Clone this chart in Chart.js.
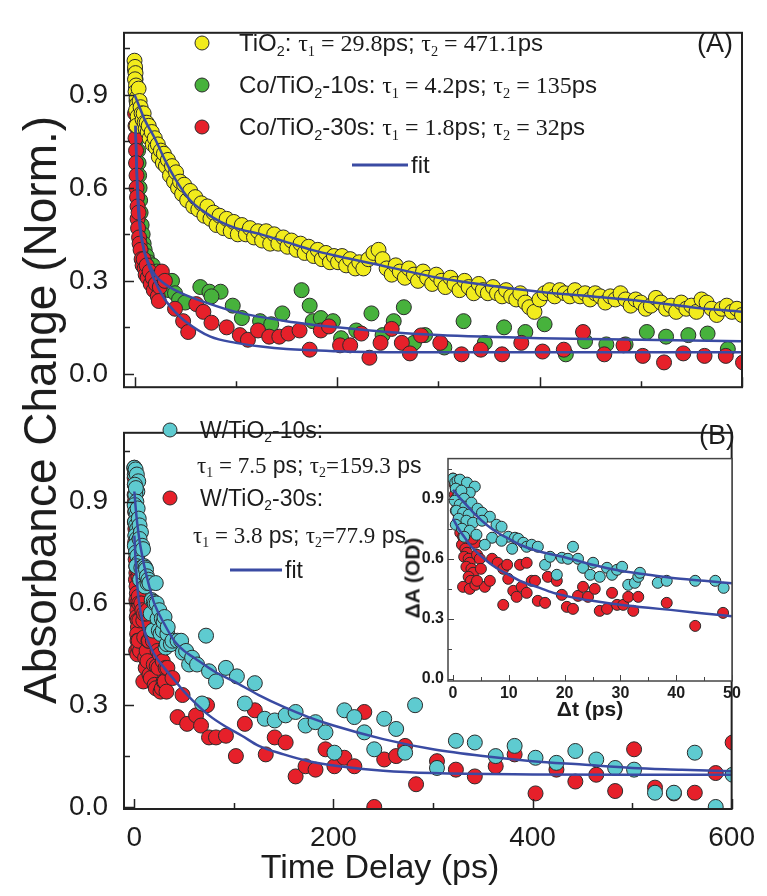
<!DOCTYPE html>
<html>
<head>
<meta charset="utf-8">
<title>Transient absorption decay</title>
<script src="https://cdn.jsdelivr.net/npm/chart.js@4.4.0/dist/chart.umd.min.js"></script>
<style>
  body { margin: 0; background: #fff; width: 767px; height: 896px; position: relative; overflow: hidden;
         font-family: "Liberation Sans", Arial, sans-serif; color: #1c1c1c; }
  canvas { position: absolute; display: block; }
  .lbl { position: absolute; white-space: nowrap; line-height: 1; transform: translateY(-50%); }
  .serif { font-family: "Liberation Serif", "Times New Roman", serif; }
  sub { font-size: 0.6em; vertical-align: -0.35em; line-height: 0; }
  .dot { position: absolute; width: 15px; height: 15px; border-radius: 50%; border: 1px solid #2b2b2b;
         box-sizing: border-box; transform: translate(-50%, -50%); }
  .fitkey { position: absolute; height: 3px; background: #3a4ba3; transform: translateY(-50%); }
</style>
</head>
<body>
<canvas id="panelA" width="767" height="420" style="left:0;top:0"></canvas>
<canvas id="panelB" width="767" height="496" style="left:0;top:400px"></canvas>
<canvas id="inset" width="350" height="275" style="left:395px;top:445px"></canvas>

<!-- axis titles -->
<div class="lbl" style="left:40px;top:410px;font-size:46px;transform:translate(-50%,-50%) rotate(-90deg)">Absorbance Change (Norm.)</div>
<div class="lbl" style="left:380px;top:866px;font-size:34px;transform:translate(-50%,-50%)">Time Delay (ps)</div>
<div class="lbl" style="left:412px;top:578px;font-size:21px;font-weight:bold;transform:translate(-50%,-50%) rotate(-90deg)">ΔA (OD)</div>
<div class="lbl" style="left:590px;top:708px;font-size:21px;font-weight:bold;transform:translate(-50%,-50%)">Δt (ps)</div>

<!-- panel A legend -->
<div class="dot" style="left:202px;top:43px;background:#f2ec1c"></div>
<div class="dot" style="left:202px;top:85px;background:#47b23c"></div>
<div class="dot" style="left:202px;top:127px;background:#e6202a"></div>
<div class="lbl" style="left:239px;top:43px;font-size:24px">TiO<sub>2</sub>: <span class="serif">τ<sub>1</sub> = 29.8</span>ps; <span class="serif">τ<sub>2</sub> = 471.1</span>ps</div>
<div class="lbl" style="left:239px;top:85px;font-size:24px">Co/TiO<sub>2</sub>-10s: <span class="serif">τ<sub>1</sub> = 4.2</span>ps; <span class="serif">τ<sub>2</sub> = 135</span>ps</div>
<div class="lbl" style="left:239px;top:127px;font-size:24px">Co/TiO<sub>2</sub>-30s: <span class="serif">τ<sub>1</sub> = 1.8</span>ps; <span class="serif">τ<sub>2</sub> = 32</span>ps</div>
<div class="fitkey" style="left:352px;top:165px;width:56px"></div>
<div class="lbl" style="left:411px;top:165px;font-size:24px">fit</div>
<div class="lbl" style="left:733px;top:43px;font-size:27px;transform:translate(-100%,-50%)">(A)</div>

<!-- panel B legend -->
<div class="dot" style="left:170px;top:430px;background:#5ecbd0"></div>
<div class="dot" style="left:170px;top:498px;background:#e6202a"></div>
<div class="lbl" style="left:200px;top:430px;font-size:23px">W/TiO<sub>2</sub>-10s:</div>
<div class="lbl" style="left:197px;top:465px;font-size:23px"><span class="serif">τ<sub>1</sub> = 7.5</span> ps; <span class="serif">τ<sub>2</sub>=159.3</span> ps</div>
<div class="lbl" style="left:200px;top:498px;font-size:23px">W/TiO<sub>2</sub>-30s:</div>
<div class="lbl" style="left:193px;top:535px;font-size:23px"><span class="serif">τ<sub>1</sub> = 3.8</span> ps; <span class="serif">τ<sub>2</sub>=77.9</span> ps</div>
<div class="fitkey" style="left:230px;top:570px;width:52px"></div>
<div class="lbl" style="left:285px;top:570px;font-size:23px">fit</div>
<div class="lbl" style="left:735px;top:435px;font-size:27px;transform:translate(-100%,-50%)">(B)</div>

<script>
// ---- panel A: TiO2 and Co/TiO2, [delay ps, normalised change] ----
const tio2 = [
  [0,1.01],[0.5,0.99],[1,0.97],[0.5,0.95],[1.5,0.93],[1,0.91],[2,0.89],[2.5,0.87],[1.5,0.85],[3,0.83],[2,0.80],
  [4,0.92],[5,0.88],[6,0.86],[7,0.84],[8,0.82],[9,0.84],[10,0.81],[11,0.79],[12,0.81],[13,0.78],[14,0.80],
  [15,0.76],[17,0.78],[18,0.74],[20,0.76],[21,0.73],[23,0.74],[24,0.70],[26,0.72],[28,0.68],[29,0.71],
  [31,0.67],[33,0.69],[35,0.64],[37,0.67],[39,0.62],[41,0.65],[43,0.60],[45,0.62],[47,0.58],[49,0.61],
  [52,0.56],[55,0.59],[58,0.54],[60,0.57],[63,0.53],[66,0.55],[69,0.51],[72,0.54],[75,0.50],[78,0.52],
  [81,0.48],[84,0.51],[88,0.47],[91,0.50],[95,0.46],[98,0.49],[102,0.45],[106,0.48],[110,0.45],[114,0.47],
  [118,0.44],[122,0.46],[126,0.43],[130,0.46],[134,0.42],[138,0.45],[142,0.42],[147,0.44],[151,0.41],
  [155,0.43],[160,0.40],[164,0.42],[168,0.39],[172,0.41],[177,0.38],[181,0.40],[185,0.37],[189,0.39],
  [193,0.36],[197,0.38],[201,0.36],[205,0.38],[209,0.35],[213,0.37],[218,0.34],[222,0.36],[226,0.34],
  [231,0.37],[236,0.39],[241,0.40],[245,0.37],[249,0.34],[254,0.32],[258,0.35],[262,0.33],[267,0.31],
  [271,0.34],[276,0.32],[280,0.30],[285,0.33],[289,0.31],[294,0.29],[298,0.32],[303,0.30],[307,0.28],
  [312,0.31],[316,0.29],[321,0.27],[326,0.30],[330,0.28],[335,0.26],[340,0.29],[344,0.27],[349,0.26],
  [354,0.28],[358,0.26],[363,0.25],[367,0.27],[372,0.25],[377,0.24],[381,0.26],[386,0.23],[390,0.215],
  [395,0.20],[400,0.24],[405,0.26],[410,0.27],[415,0.25],[420,0.27],[425,0.26],[430,0.25],[435,0.27],
  [440,0.25],[445,0.26],[450,0.24],[455,0.26],[460,0.25],[465,0.23],[470,0.25],[475,0.24],[480,0.26],
  [485,0.24],[490,0.22],[495,0.24],[500,0.23],[505,0.21],[510,0.22],[515,0.245],[520,0.23],[525,0.21],
  [530,0.22],[535,0.20],[540,0.23],[545,0.21],[550,0.22],[555,0.20],[560,0.24],[565,0.23],[570,0.21],
  [575,0.19],[580,0.21],[585,0.22],[590,0.20],[595,0.21],[600,0.19]
];
const coTi10 = [
  [0.5,0.98],[1,0.95],[1.5,0.92],[2,0.88],[2.5,0.84],[3,0.80],[3,0.76],[3.5,0.72],[4,0.68],[4.5,0.64],
  [5,0.60],[5.5,0.56],[6,0.52],[7,0.48],[8,0.45],[9,0.42],[10,0.40],[12,0.38],[14,0.36],[16,0.34],
  [18,0.35],[20,0.32],[22,0.33],[25,0.30],[28,0.31],[31,0.29],[34,0.27],[37,0.30],[40,0.26],[44,0.24],
  [50,0.23],[65,0.28],[74,0.265],[85,0.265],[76,0.25],[97,0.22],[106,0.18],[124,0.17],[135,0.16],
  [146,0.195],[165,0.27],[173,0.22],[176,0.17],[184,0.18],[196,0.17],[204,0.115],[219,0.14],[234,0.195],
  [245,0.125],[256,0.17],[266,0.215],[276,0.10],[287,0.125],[306,0.085],[325,0.17],[346,0.10],[365,0.15],
  [386,0.135],[405,0.16],[426,0.063],[445,0.105],[466,0.095],[485,0.095],[506,0.135],[525,0.12],
  [547,0.125],[566,0.13],[586,0.08]
];
const coTi30 = [
  [0.5,0.84],[1,0.80],[1,0.76],[1.5,0.72],[1.5,0.68],[2,0.64],[2,0.60],[2.5,0.57],[3,0.54],[3,0.50],
  [3.5,0.47],[4,0.52],[4.5,0.44],[5,0.42],[6,0.40],[7,0.37],[8,0.35],[9,0.37],[10,0.34],[11,0.32],
  [12,0.35],[13,0.31],[15,0.33],[16,0.29],[18,0.31],[19,0.27],[21,0.29],[23,0.25],[25,0.28],[27,0.33],
  [30,0.30],[24,0.235],[40,0.21],[48,0.17],[53,0.135],[61,0.225],[68,0.20],[76,0.165],[91,0.15],
  [104,0.125],[112,0.11],[122,0.14],[133,0.12],[143,0.12],[152,0.13],[163,0.14],[173,0.078],[184,0.14],
  [192,0.153],[203,0.092],[213,0.092],[224,0.13],[232,0.052],[243,0.10],[254,0.145],[264,0.10],
  [272,0.066],[283,0.124],[302,0.10],[323,0.063],[342,0.078],[363,0.063],[382,0.10],[403,0.072],
  [424,0.078],[443,0.135],[464,0.063],[483,0.092],[502,0.058],[523,0.037],[542,0.066],[563,0.058],
  [584,0.058],[601,0.037]
];
// biexponential fit curves, sampled along the drawn line
const tio2Fit = [
  [0,0.90],[5,0.86],[10,0.82],[20,0.76],[30,0.69],[40,0.63],[55,0.56],[70,0.52],[85,0.49],[100,0.47],
  [125,0.45],[150,0.425],[175,0.40],[200,0.38],[250,0.345],[300,0.31],[350,0.285],[400,0.265],
  [450,0.25],[500,0.235],[550,0.215],[600,0.20]
];
const coTi10Fit = [
  [1,0.80],[2,0.68],[4,0.55],[6,0.47],[8,0.42],[10,0.39],[15,0.35],[20,0.32],[30,0.29],[40,0.27],
  [50,0.255],[75,0.225],[100,0.20],[150,0.17],[200,0.15],[250,0.135],[300,0.125],[400,0.115],
  [500,0.11],[600,0.105]
];
const coTi30Fit = [
  [1,0.80],[2,0.66],[3,0.57],[4,0.51],[6,0.45],[8,0.42],[10,0.39],[15,0.34],[20,0.30],[30,0.24],
  [40,0.20],[50,0.17],[75,0.12],[100,0.10],[125,0.088],[150,0.08],[200,0.073],[250,0.07],[300,0.07],
  [400,0.07],[500,0.07],[600,0.07]
];

// ---- panel B: W/TiO2, first 50 ps (also shown in the inset) and later delays ----
const w10Early = [
  [0,1.0],[0.4,0.98],[0.8,0.99],[1.25,0.995],[2.5,0.98],[3.9,0.96],[3,0.93],[0.5,0.95],[1,0.92],[1.5,0.94],
  [2,0.90],[0.3,0.89],[1.2,0.87],[2.2,0.86],[3.3,0.88],[0.6,0.84],[1.8,0.83],[2.8,0.82],[4.4,0.85],
  [1,0.80],[2.4,0.79],[3.6,0.78],[0.5,0.77],[1.6,0.75],[3,0.74],[4.2,0.72],[2,0.71],[5.2,0.83],
  [6.6,0.81],[5.2,0.79],[7.8,0.77],[8.7,0.76],[7,0.705],[5.7,0.67],[9.9,0.71],[11.1,0.705],[8.7,0.69],
  [11.7,0.70],[10.6,0.65],[12.6,0.68],[13.2,0.66],[14.1,0.67],[15.2,0.66],[16.5,0.57],[17.4,0.61],
  [18.6,0.52],[19.5,0.605],[20.6,0.60],[21.5,0.66],[22.4,0.60],[23.3,0.555],[24.6,0.52],[25.1,0.58],
  [26.3,0.51],[27.6,0.555],[28.5,0.52],[29.4,0.545],[30.3,0.56],[31.4,0.47],[32.6,0.48],[33.2,0.51],
  [33.5,0.53],[36.7,0.48],[38.3,0.49],[43.4,0.49],[47,0.49],[48.5,0.455]
];
const w10Late = [
  [52,0.46],[55,0.42],[58,0.44],[63,0.42],[68,0.305],[72,0.505],[75,0.40],[82,0.37],[92,0.41],[103,0.385],
  [111,0.305],[121,0.365],[131,0.26],[141,0.255],[152,0.27],[162,0.28],[172,0.24],[182,0.25],[192,0.22],
  [201,0.16],[211,0.285],[221,0.265],[231,0.22],[241,0.17],[251,0.26],[263,0.23],[272,0.16],[282,0.30],
  [304,0.115],[323,0.195],[342,0.19],[363,0.15],[382,0.18],[403,0.145],[424,0.13],[443,0.165],
  [464,0.14],[483,0.115],[502,0.11],[523,0.042],[542,0.042],[563,0.16],[584,0.0],[601,0.095]
];
const w30Early = [
  [0,1.0],[0.3,0.97],[0.5,0.95],[0.3,0.92],[0.6,0.90],[0.8,0.87],[0.5,0.84],[1,0.82],[1.2,0.80],
  [0.8,0.78],[1.5,0.76],[1.3,0.73],[1.8,0.71],[2,0.69],[1.6,0.67],[2.2,0.65],[2.5,0.63],[2,0.61],
  [2.8,0.60],[3,0.58],[2.4,0.56],[3.3,0.55],[3.6,0.53],[2.8,0.51],[3.2,0.49],[1.8,0.46],[3,0.45],
  [4,0.47],[4.3,0.62],[4.8,0.60],[5.7,0.46],[6.6,0.49],[5,0.55],[4,0.68],[3.5,0.70],[4.3,0.49],
  [7,0.60],[8,0.58],[9,0.55],[9.7,0.57],[9.9,0.50],[9,0.37],[10.8,0.44],[11.4,0.41],[12,0.57],
  [13.2,0.58],[12.3,0.46],[13.2,0.43],[14.1,0.49],[14.7,0.49],[15.2,0.39],[16.5,0.38],[17,0.51],
  [18.6,0.49],[19.5,0.42],[20.4,0.36],[21.5,0.35],[22.4,0.415],[23.3,0.46],[24.2,0.41],[25.4,0.45],
  [26.3,0.34],[27.6,0.35],[28.5,0.43],[29.4,0.37],[30.5,0.37],[31.4,0.41],[32.3,0.34],[33.2,0.41],
  [38.3,0.38],[43.4,0.265],[48.4,0.33]
];
const w30Late = [
  [53,0.245],[62,0.27],[67,0.24],[73,0.30],[75,0.205],[82,0.205],[92,0.21],[102,0.15],[111,0.245],
  [121,0.285],[132,0.155],[141,0.205],[152,0.19],[162,0.09],[172,0.12],[182,0.11],[192,0.17],[201,0.12],
  [211,0.145],[221,0.12],[231,0.28],[241,0.0],[251,0.14],[263,0.15],[272,0.18],[283,0.067],[304,0.135],
  [323,0.11],[342,0.09],[363,0.12],[382,0.155],[403,0.04],[424,0.11],[443,0.075],[464,0.095],
  [483,0.047],[502,0.17],[523,0.057],[542,0.04],[563,0.042],[584,0.10],[601,0.19]
];
const w10Fit = [
  [0,0.93],[2,0.86],[4,0.81],[6,0.77],[8,0.74],[10,0.71],[15,0.65],[20,0.60],[30,0.54],[40,0.49],
  [50,0.46],[60,0.44],[80,0.40],[100,0.37],[125,0.33],[150,0.295],[175,0.265],[200,0.24],[250,0.20],
  [300,0.17],[350,0.15],[400,0.135],[450,0.125],[500,0.115],[550,0.11],[600,0.105]
];
const w30Fit = [
  [0,0.80],[1,0.74],[2,0.69],[3,0.65],[4,0.62],[6,0.58],[8,0.55],[10,0.52],[15,0.48],[20,0.45],
  [30,0.41],[40,0.375],[50,0.34],[60,0.31],[75,0.27],[90,0.24],[108,0.21],[125,0.18],[150,0.155],
  [175,0.135],[206,0.12],[250,0.107],[300,0.10],[400,0.096],[500,0.095],[600,0.095]
];
// inset fits over the first 50 ps
const w10FitInset = [
  [0,0.945],[1,0.91],[2,0.88],[3,0.85],[4,0.82],[6,0.77],[8,0.73],[10,0.70],[12,0.67],[15,0.64],
  [18,0.62],[21,0.60],[25,0.57],[30,0.54],[35,0.52],[39,0.505],[45,0.49],[50,0.478]
];
const w30FitInset = [
  [0,0.80],[1,0.75],[2,0.71],[3,0.67],[4,0.64],[6,0.59],[8,0.55],[10,0.52],[12,0.49],[15,0.46],
  [18,0.43],[21,0.41],[25,0.39],[30,0.37],[35,0.355],[39,0.345],[45,0.327],[50,0.313]
];

// ticks
const delayTicks = [0, 100, 200, 300, 400, 500, 600];
const delayLabels = [0, 200, 400, 600];
const normTicks = [0, 0.15, 0.3, 0.45, 0.6, 0.75, 0.9, 1.05];
const normLabels = [0, 0.3, 0.6, 0.9];
const insetTimeTicks = [0, 5, 10, 15, 20, 25, 30, 35, 40, 45, 50];
const insetTimeLabels = [0, 10, 20, 30, 40, 50];

const YELLOW = '#f2ec1c', GREEN = '#47b23c', RED = '#e6202a', CYAN = '#5ecbd0', FIT = '#3a4ba3', INK = '#1c1c1c';

const has = (list, v) => list.some(a => Math.abs(a - v) < 1e-9);
const toXY = arr => arr.map(([x, y]) => ({ x, y }));

function dots(arr, color, r) {
  return { data: toXY(arr), backgroundColor: color, borderColor: '#2b2b2b', borderWidth: 1,
           pointRadius: r, pointHoverRadius: r };
}
function fit(arr, w) {
  return { data: toXY(arr), showLine: true, pointRadius: 0, borderColor: FIT, borderWidth: w,
           cubicInterpolationMode: 'monotone', fill: false };
}

// box around the plot area + inward tick marks
const framePlugin = {
  id: 'frame',
  beforeDatasetsDraw(chart, args, o) {
    const a = chart.chartArea;
    if (o.fill) {
      chart.ctx.fillStyle = o.fill;
      chart.ctx.fillRect(a.left, a.top, a.right - a.left, a.bottom - a.top);
    }
  },
  afterDatasetsDraw(chart, args, o) {
    const { ctx, chartArea: a, scales: { x, y } } = chart;
    ctx.save();
    ctx.strokeStyle = o.color;
    ctx.lineWidth = o.tickWidth;
    ctx.beginPath();
    o.xTicks.forEach(v => {
      const px = Math.round(x.getPixelForValue(v)) + 0.5;
      const len = has(o.xMajor, v) ? o.major : o.minor;
      ctx.moveTo(px, a.bottom); ctx.lineTo(px, a.bottom - len);
    });
    o.yTicks.forEach(v => {
      const py = Math.round(y.getPixelForValue(v)) + 0.5;
      const len = has(o.yMajor, v) ? o.major : o.minor;
      ctx.moveTo(a.left, py); ctx.lineTo(a.left + len, py);
    });
    ctx.stroke();
    ctx.lineWidth = o.width;
    ctx.strokeRect(a.left, a.top, a.right - a.left, a.bottom - a.top);
    ctx.restore();
  }
};

function makeChart(id, datasets, o) {
  return new Chart(document.getElementById(id), {
    type: 'scatter',
    data: { datasets },
    options: {
      responsive: false,
      animation: false,
      events: [],
      layout: { autoPadding: false, padding: o.padding },
      plugins: { legend: { display: false }, tooltip: { enabled: false }, frame: o.frame },
      scales: {
        x: {
          type: 'linear', min: o.x[0], max: o.x[1],
          afterBuildTicks: s => { s.ticks = o.frame.xTicks.map(value => ({ value })); },
          afterFit: s => { s.height = o.xHeight; },
          grid: { display: false, drawTicks: false },
          border: { display: false },
          ticks: {
            display: o.showX, autoSkip: false, maxRotation: 0, padding: o.xPad, color: INK, font: o.font,
            callback: v => has(o.frame.xMajor, v) ? String(v) : ''
          }
        },
        y: {
          type: 'linear', min: o.y[0], max: o.y[1],
          afterBuildTicks: s => { s.ticks = o.frame.yTicks.map(value => ({ value })); },
          afterFit: s => { s.width = o.yWidth; },
          grid: { display: false, drawTicks: false },
          border: { display: false },
          ticks: {
            autoSkip: false, padding: o.yPad, color: INK, font: o.font,
            callback: v => has(o.frame.yMajor, v) ? v.toFixed(1) : ''
          }
        }
      }
    },
    plugins: [framePlugin]
  });
}

const mainFont = { family: '"Liberation Sans", Arial, sans-serif', size: 28 };
const mainFrame = { color: '#222', width: 2, tickWidth: 1.5, major: 10, minor: 6,
                    xTicks: delayTicks, xMajor: delayLabels, yTicks: normTicks, yMajor: normLabels };

makeChart('panelA', [
  fit(tio2Fit, 2.5), fit(coTi10Fit, 2.5), fit(coTi30Fit, 2.5),
  dots(tio2, YELLOW, 7.5), dots(coTi30, RED, 7.5), dots(coTi10, GREEN, 7.5)
], {
  x: [-10.4, 600], y: [-0.043, 1.10],
  padding: { left: 0, top: 14, right: 25, bottom: 10 },
  xHeight: 0, yWidth: 124, showX: false, xPad: 0, yPad: 16,
  font: mainFont, frame: mainFrame
});

makeChart('panelB', [
  fit(w10Fit, 2.5), fit(w30Fit, 2.5),
  dots(w10Early.concat(w10Late), CYAN, 7.5), dots(w30Early.concat(w30Late), RED, 7.5)
], {
  x: [-10.4, 600], y: [-0.006, 1.103],
  padding: { left: 0, top: 10, right: 25, bottom: 27 },
  xHeight: 60, yWidth: 124, showX: true, xPad: 12, yPad: 16,
  font: mainFont, frame: mainFrame
});

makeChart('inset', [
  fit(w10FitInset, 2.5), fit(w30FitInset, 2.5),
  dots(w10Early, CYAN, 5.5), dots(w30Early, RED, 5.5)
], {
  x: [-0.9, 50], y: [-0.01, 1.10],
  padding: { left: 0, top: 13, right: 13, bottom: 19 },
  xHeight: 20, yWidth: 53, showX: true, xPad: 3, yPad: 4,
  font: { family: '"Liberation Sans", Arial, sans-serif', size: 16, weight: 'bold' },
  frame: { color: '#444', width: 1.5, tickWidth: 1, major: 6, minor: 4, fill: '#fff',
           xTicks: insetTimeTicks, xMajor: insetTimeLabels, yTicks: normTicks, yMajor: normLabels }
});
</script>
</body>
</html>
